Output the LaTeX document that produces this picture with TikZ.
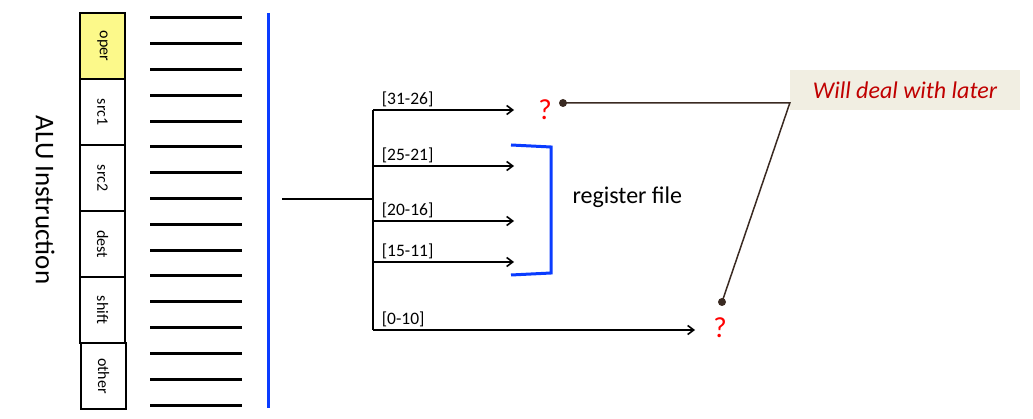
\documentclass[tikz,border=0pt]{standalone}
\usepackage{fontspec}
\setmainfont{Carlito}
\usetikzlibrary{arrows.meta,positioning}

\definecolor{notered}{HTML}{C00000}
\definecolor{notebg}{HTML}{F1EEE2}
\definecolor{leader}{HTML}{3A2A22}
\definecolor{busblue}{HTML}{0A3CFF}
\definecolor{operyellow}{HTML}{FCF98A}

\tikzset{
  field/.style={draw, line width=1.2pt, rotate=-90, minimum width=66pt, minimum height=45pt,
    inner sep=0pt, font=\fontsize{16}{18}\selectfont},
  bitline/.style={line width=3pt},
  bus/.style={line width=2pt},
  tap/.style={line width=1.6pt, -{Straight Barb[length=6pt,width=9pt]}},
  bitlabel/.style={font=\fontsize{17.5}{20}\selectfont, anchor=south west, xshift=6pt, inner sep=2pt},
  query/.style={text=red, font=\fontsize{29}{32}\selectfont, inner sep=1pt},
}

\begin{document}
\begin{tikzpicture}[x=1pt,y=-1pt]
\useasboundingbox (0,0) rectangle (1033,419);

% instruction word
\node[rotate=-90, font=\fontsize{27}{30}\selectfont] (title) at (45,200) {ALU Instruction};
\node[field, fill=operyellow] (oper) at (102.5,46) {oper};
\node[field] (src1) at (102.5,112) {src1};
\node[field] (src2) at (102.5,178) {src2};
\node[field] (dest) at (102.5,244) {dest};
\node[field] (shift) at (102.5,310) {shift};
\node[field] (other) at (103.5,376) {other};

% bit lines
\foreach \i in {0,...,15}
  \draw[bitline] (150,{18+25.8*\i}) -- (242,{18+25.8*\i});
\draw[line width=3pt, busblue] (268,13) -- (268,408);

% splitting the bus
\coordinate (busin) at (282,199);
\coordinate (split) at (373,199);
\coordinate (top) at (373,110);
\coordinate (bot) at (373,330);
\draw[bus] (busin) -- (split);
\draw[bus] (top) -- (bot);

\draw[tap] (top) -- node[pos=0, bitlabel] {[31-26]} (514,110);
\draw[tap] (373,166) -- node[pos=0, bitlabel] {[25-21]} (514,166);
\draw[tap] (373,221) -- node[pos=0, bitlabel] {[20-16]} (514,221);
\draw[tap] (373,262) -- node[pos=0, bitlabel] {[15-11]} (514,262);
\draw[tap] (bot) -- node[pos=0, bitlabel] {[0-10]} (695,330);

% register file
\draw[busblue, line width=3pt] (511,145) -- (551,147) -- (551,273) -- (511,275);
\node[font=\fontsize{24}{28}\selectfont, anchor=west] (regfile) at (569,197) {register file};

% open questions
\node[query] (q1) at (545,110) {?};
\node[query] (q2) at (720,328) {?};
\node[fill=notebg, minimum width=230pt, minimum height=40pt, text=notered,
  font=\fontsize{24}{28}\selectfont\itshape] (note) at (905,90) {Will deal with later};
\coordinate (d1) at (563,103);
\coordinate (d2) at (722,302);
\draw[leader, line width=1.5pt] (d1) -- (note.west |- d1) -- (d2);
\fill[leader] (d1) circle (4pt);
\fill[leader] (d2) circle (4pt);
\end{tikzpicture}
\end{document}
